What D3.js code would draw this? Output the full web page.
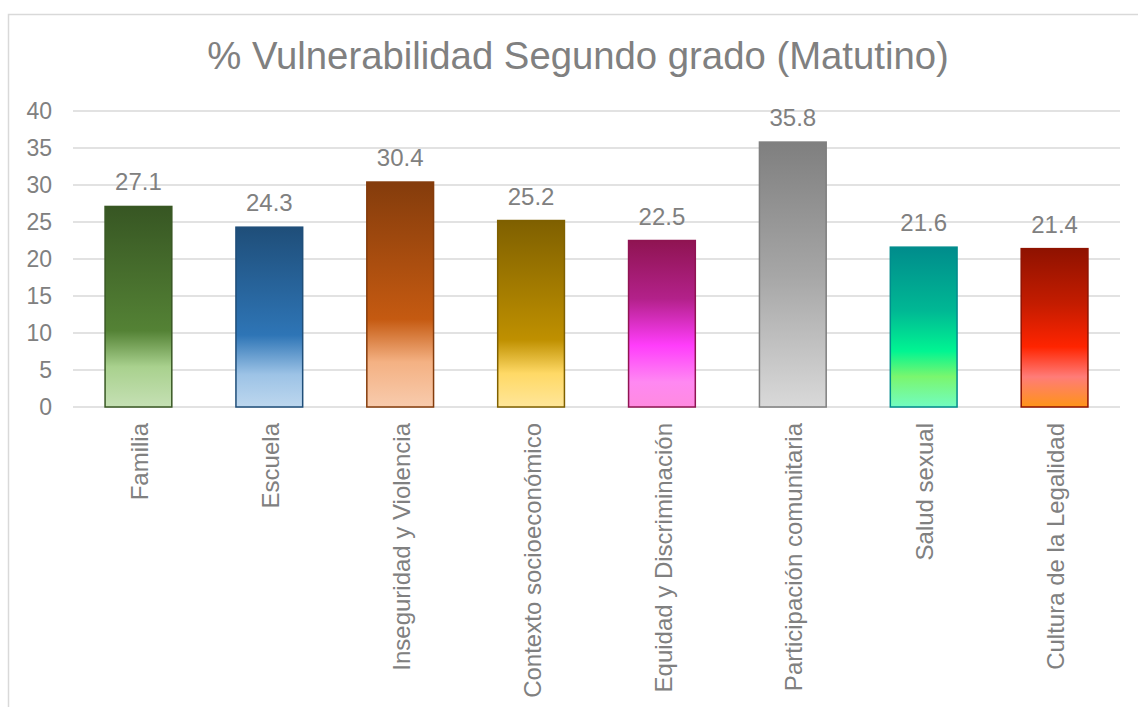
<!DOCTYPE html>
<html>
<head>
<meta charset="utf-8">
<script src="https://cdn.jsdelivr.net/npm/d3@7"></script>
<style>
  body { margin: 0; background: #fff; }
  text { font-family: "Liberation Sans", Arial, sans-serif; fill: #808080; }
</style>
</head>
<body>
<svg id="chart" width="1138" height="707"></svg>
<script>
// data
var categories = ["Familia", "Escuela", "Inseguridad y Violencia", "Contexto socioeconómico",
                  "Equidad y Discriminación", "Participación comunitaria", "Salud sexual", "Cultura de la Legalidad"];
var values = [27.1, 24.3, 30.4, 25.2, 22.5, 35.8, 21.6, 21.4];
var yTicks = [0, 5, 10, 15, 20, 25, 30, 35, 40];
var title = "% Vulnerabilidad Segundo grado (Matutino)";

// gradient stops per bar [offset, colour], top to bottom
var gradients = [
  [[0, "#375623"], [0.62, "#548235"], [0.8, "#a9d18e"], [1, "#c5e0b4"]],
  [[0, "#1f4e79"], [0.6, "#2e75b6"], [0.82, "#9dc3e6"], [1, "#bdd7ee"]],
  [[0, "#843c0c"], [0.61, "#c55a11"], [0.8, "#f4b183"], [1, "#f8cbad"]],
  [[0, "#7f6000"], [0.64, "#bf9000"], [0.82, "#ffd966"], [1, "#ffe699"]],
  [[0, "#8f1452"], [0.35, "#b3218a"], [0.63, "#ff3dfb"], [0.85, "#ff88f2"], [1, "#ff8be0"]],
  [[0, "#7f7f7f"], [0.5, "#a6a6a6"], [1, "#d9d9d9"]],
  [[0, "#008c8c"], [0.4, "#00b894"], [0.65, "#00f592"], [0.81, "#7af66e"], [1, "#72fcc0"]],
  [[0, "#8f1200"], [0.35, "#c41c00"], [0.62, "#ff2400"], [0.81, "#ff7c78"], [1, "#ff9418"]]
];
var borders = ["#385723", "#1f4e79", "#843c0c", "#7f6000", "#8f1452", "#7f7f7f", "#008c8c", "#8f1200"];

var margin = {top: 111, right: 18, bottom: 300, left: 73},
    width = 1138 - margin.left - margin.right,
    height = 707 - margin.top - margin.bottom;

var svg = d3.select("#chart");

// chart border
svg.append("rect")
  .attr("x", 8.5).attr("y", 14.5)
  .attr("width", 1140).attr("height", 720)
  .attr("fill", "none")
  .attr("stroke", "#d9d9d9")
  .attr("stroke-width", 1.5);

svg.append("text")
  .attr("x", 578).attr("y", 69)
  .attr("text-anchor", "middle")
  .style("font-size", "38.3px")
  .text(title);

var defs = svg.append("defs");
gradients.forEach(function(stops, i) {
  var g = defs.append("linearGradient")
    .attr("id", "grad" + i)
    .attr("x1", 0).attr("y1", 0).attr("x2", 0).attr("y2", 1);
  g.selectAll("stop").data(stops).enter().append("stop")
    .attr("offset", function(d) { return d[0]; })
    .attr("stop-color", function(d) { return d[1]; });
});

var g = svg.append("g").attr("transform", "translate(" + margin.left + "," + margin.top + ")");

var x = d3.scaleBand().domain(categories).range([0, width]).paddingInner(0.49).paddingOuter(0.245);
var y = d3.scaleLinear().domain([0, 40]).range([height, 0]);

// grid lines
g.append("g")
  .selectAll("line")
  .data(yTicks)
  .enter().append("line")
  .attr("x1", 0).attr("x2", width)
  .attr("y1", function(d) { return y(d); })
  .attr("y2", function(d) { return y(d); })
  .attr("stroke", "#d9d9d9")
  .attr("stroke-width", 1.5);

// y axis labels
g.append("g")
  .selectAll("text")
  .data(yTicks)
  .enter().append("text")
  .attr("x", -21)
  .attr("y", function(d) { return y(d); })
  .attr("dy", "0.36em")
  .attr("text-anchor", "end")
  .style("font-size", "23px")
  .text(function(d) { return d; });

// bars
g.selectAll(".bar")
  .data(values)
  .enter().append("rect")
  .attr("class", "bar")
  .attr("x", function(d, i) { return x(categories[i]); })
  .attr("width", x.bandwidth())
  .attr("y", function(d) { return y(d); })
  .attr("height", function(d) { return height - y(d); })
  .attr("fill", function(d, i) { return "url(#grad" + i + ")"; })
  .attr("stroke", function(d, i) { return borders[i]; })
  .attr("stroke-width", 1.5);

// value labels
g.selectAll(".val")
  .data(values)
  .enter().append("text")
  .attr("class", "val")
  .attr("x", function(d, i) { return x(categories[i]) + x.bandwidth() / 2; })
  .attr("y", function(d) { return y(d) - 16; })
  .attr("text-anchor", "middle")
  .style("font-size", "24px")
  .text(function(d) { return d.toFixed(1); });

// category labels, rotated
g.selectAll(".cat")
  .data(categories)
  .enter().append("text")
  .attr("class", "cat")
  .attr("transform", function(d) {
    return "translate(" + (x(d) + x.bandwidth() / 2 + 1) + "," + (height + 16) + ") rotate(-90)";
  })
  .attr("dy", "0.36em")
  .attr("text-anchor", "end")
  .style("font-size", "24px")
  .text(function(d) { return d; });
</script>
</body>
</html>
